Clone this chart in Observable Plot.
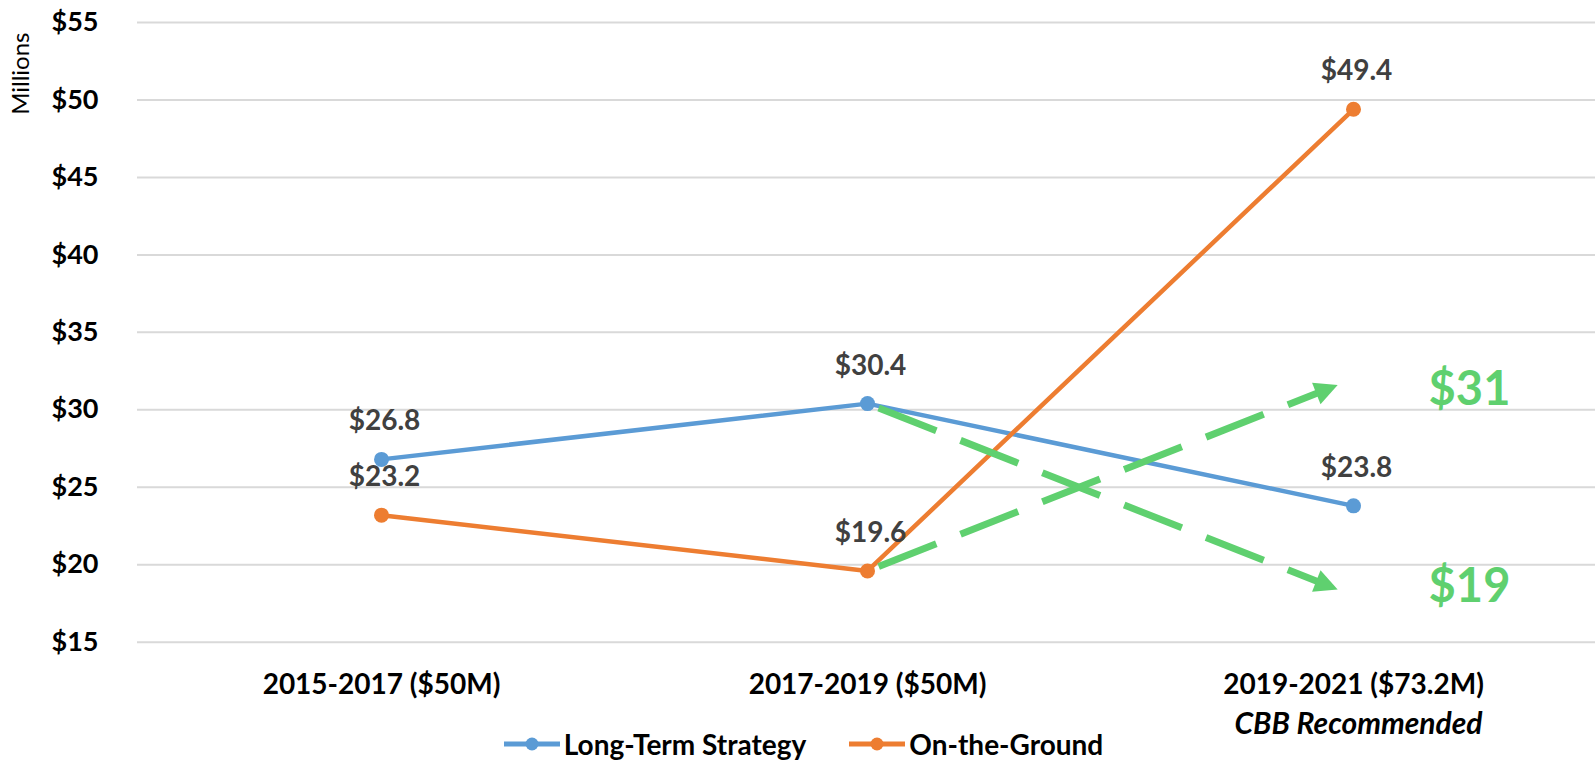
<!DOCTYPE html>
<html><head><meta charset="utf-8">
<script src="https://cdn.jsdelivr.net/npm/d3@7"></script>
<script src="https://cdn.jsdelivr.net/npm/@observablehq/plot@0.6"></script>
<style>
html,body{margin:0;padding:0;background:#fff;}
body{width:1595px;height:764px;overflow:hidden;position:relative;font-family:Lato,"Open Sans",sans-serif;}
#chart svg{display:block;}
#legend{position:absolute;left:6px;top:724px;width:1595px;height:40px;display:flex;justify-content:center;align-items:center;font-size:28px;font-weight:bold;color:#000;}
.item{display:flex;align-items:center;}
.item svg{margin-right:4px;}
.item + .item{margin-left:43px;}
</style></head><body><div id="chart"></div><div id="legend"></div>
<script>
// ---- data ----
const periods = ["2015-2017 ($50M)", "2017-2019 ($50M)", "2019-2021 ($73.2M)"];
const longTerm = [26.8, 30.4, 23.8];
const onGround = [23.2, 19.6, 49.4];
const seriesNames = ["Long-Term Strategy", "On-the-Ground"];
const seriesColors = ["#5B9BD5", "#ED7D31"];
const yTicks = [15, 20, 25, 30, 35, 40, 45, 50, 55];
const yLabel = "Millions";
const subLabel = "CBB Recommended";
const arrowFrom = [30.4, 19.6];   // at 2017-2019
const arrowTo = [18, 32];         // pointing toward 2019-2021
const arrowLabels = ["$19", "$31"];
const arrowLabelValues = [19, 31];

const green = "#5FD06F";
const rows = [];
periods.forEach((p, i) => {
  rows.push({period: p, value: longTerm[i], series: seriesNames[0]});
  rows.push({period: p, value: onGround[i], series: seriesNames[1]});
});
const arrows = arrowFrom.map((f, i) => ({x1: periods[1], y1: f, x2: periods[2], y2: arrowTo[i]}));

// ---- layout ----
const W = 1595, H = 764, mL = 137, mT = 22, mB = 122.3, plotW = 1460;
const stepPx = plotW / 3, unitPx = (H - mT - mB) / (yTicks[yTicks.length - 1] - yTicks[0]);
const heads = arrows.map(a => {
  const dxp = stepPx, dyp = -(a.y2 - a.y1) * unitPx;
  const ang = Math.atan2(dxp, -dyp) * 180 / Math.PI;
  return {...a, back: ang + 180};
});
const headShape = {draw(ctx, l, r) { ctx.moveTo(0, -17); ctx.lineTo(-11.5, -40); ctx.lineTo(11.5, -40); ctx.closePath(); }};

const bold = {fontWeight: "bold"};
const plot = Plot.plot({
  width: W, height: H, marginLeft: mL, marginRight: 0, marginTop: mT, marginBottom: mB,
  style: {fontFamily: "Lato, 'Open Sans', sans-serif", background: "white", color: "#000"},
  x: {type: "point", domain: periods, range: [mL, mL + plotW], padding: 0.5},
  y: {domain: [yTicks[0], yTicks[yTicks.length - 1]]},
  color: {domain: seriesNames, range: seriesColors},
  marks: [
    Plot.ruleY(yTicks, {stroke: "#D9D9D9", strokeWidth: 2}),
    Plot.axisY({ticks: yTicks, tickFormat: d => "$" + d, tickSize: 0, tickPadding: 39, fontSize: 27, fill: "#000", label: null, ...bold}),
    Plot.axisX({tickSize: 0, tickPadding: 32, fontSize: 28, fill: "#000", label: null, ...bold}),
    Plot.text([subLabel], {x: () => periods[2], text: d => d, frameAnchor: "bottom", lineAnchor: "top", dy: 70, dx: 5, fontSize: 30, fontStyle: "italic", fill: "#000", ...bold}),
    Plot.text([yLabel], {text: d => d, frameAnchor: "top-left", rotate: -90, textAnchor: "end", lineAnchor: "middle", dx: -116, dy: 10, fontSize: 24, fill: "#000"}),
    Plot.line(rows.filter(d => d.series === seriesNames[0]), {x: "period", y: "value", stroke: "series", strokeWidth: 4.5}),
    Plot.line(rows.filter(d => d.series === seriesNames[1]), {x: "period", y: "value", stroke: "series", strokeWidth: 4.5}),
    Plot.dot(rows, {x: "period", y: "value", fill: "series", r: 7.5}),
    Plot.arrow(arrows, {x1: "x1", y1: "y1", x2: "x2", y2: "y2", stroke: green, strokeWidth: 7, strokeDasharray: "62,26", insetStart: 12, insetEnd: 38, headLength: 0, strokeLinecap: "butt"}),
    Plot.vector(heads, {x: "x2", y: "y2", rotate: "back", length: 40, anchor: "start", fill: green, stroke: "none", shape: headShape}),
    Plot.text(rows, {x: "period", y: "value", text: d => "$" + d.value.toFixed(1), dy: -38, dx: 3, fontSize: 28, fill: "#404040", ...bold}),
    Plot.text([0], {x: () => periods[2], y: () => arrowLabelValues[0], text: () => arrowLabels[0], dx: 116, dy: 7, fontSize: 47, fill: green, ...bold}),
    Plot.text([1], {x: () => periods[2], y: () => arrowLabelValues[1], text: () => arrowLabels[1], dx: 116, dy: -4, fontSize: 47, fill: green, ...bold})
  ]
});
document.getElementById("chart").appendChild(plot);

// ---- legend ----
const legend = document.getElementById("legend");
seriesNames.forEach((name, i) => {
  const item = document.createElement("div");
  item.className = "item";
  item.innerHTML = `<svg width="56" height="20"><line x1="0" y1="10" x2="56" y2="10" stroke="${seriesColors[i]}" stroke-width="5" stroke-linecap="round"/><circle cx="28" cy="10" r="6.5" fill="${seriesColors[i]}"/></svg>`;
  const span = document.createElement("span");
  span.textContent = name;
  item.appendChild(span);
  legend.appendChild(item);
});
</script></body></html>
